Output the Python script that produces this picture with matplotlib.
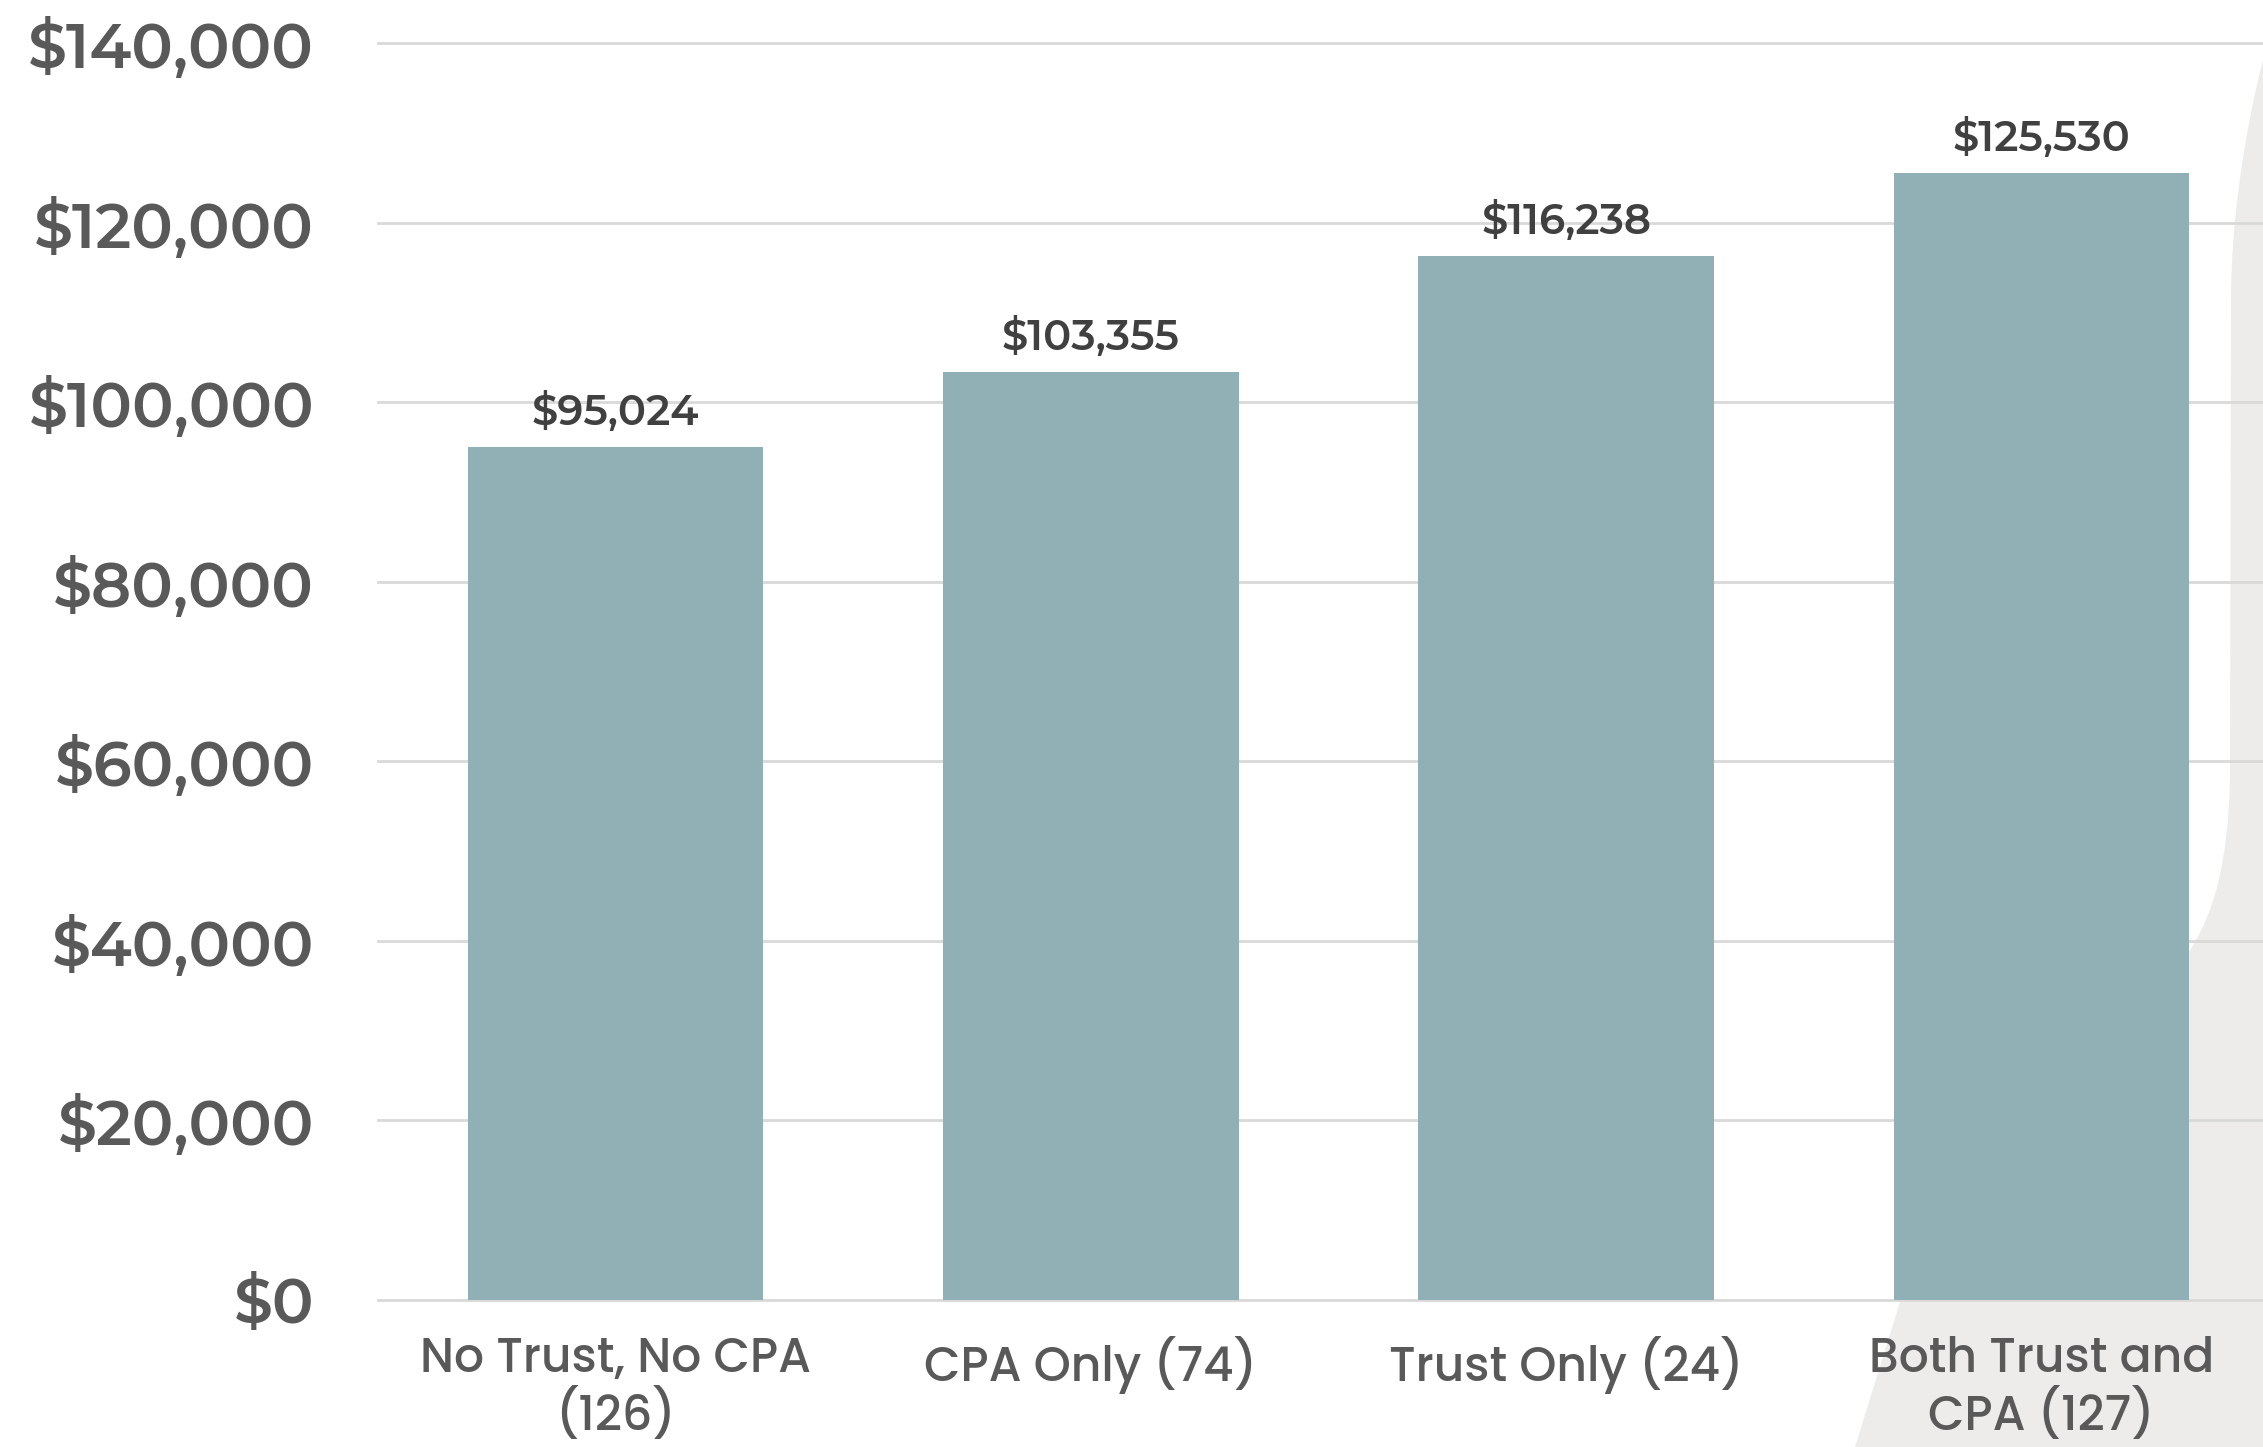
import matplotlib
matplotlib.use("Agg")
from matplotlib import pyplot as plt
from matplotlib.path import Path
from matplotlib.patches import PathPatch
from matplotlib.ticker import FuncFormatter

# data
categories = ["No Trust, No CPA\n(126)", "CPA Only (74)", "Trust Only (24)", "Both Trust and\nCPA (127)"]
values = [95024, 103355, 116238, 125530]

bar_color = '#91b0b5'
tick_color = '#595959'
label_color = '#404040'
grid_color = '#d9d9d9'
deco_color = '#edecea'

# static Montserrat weights are only installed as "Montserrat Alternates"
plt.rcParams['font.family'] = ['Montserrat Alternates', 'DejaVu Sans']
# the alternates have odd N / A shapes, so the category labels use a plain geometric sans
cat_family = ['Poppins', 'Montserrat Alternates', 'DejaVu Sans']

W, H = 2263, 1447
fig = plt.figure(figsize=(W / 100, H / 100), dpi=100)
fig.patch.set_facecolor('white')

# light grey background shape on the right (pixel coords, y down)
deco = [
    (2263, 60),
    (2245, 130), (2231, 220), (2231, 300),
    (2230, 780),
    (2228, 860), (2215, 910), (2192, 947),
    (2150, 1020), (1950, 1150), (1900, 1302),
    (1855, 1447),
    (2263, 1447),
    (2263, 60),
]
codes = [Path.MOVETO, Path.CURVE4, Path.CURVE4, Path.CURVE4, Path.LINETO,
         Path.CURVE4, Path.CURVE4, Path.CURVE4,
         Path.CURVE4, Path.CURVE4, Path.CURVE4,
         Path.LINETO, Path.LINETO, Path.CLOSEPOLY]
verts = [(x / W, 1 - y / H) for x, y in deco]
patch = PathPatch(Path(verts, codes), facecolor=deco_color, edgecolor='none',
                  transform=fig.transFigure, zorder=-5)
fig.patches.append(patch)

left, right = 378 / W, 1.0
bottom, top = 1 - 1300 / H, 1 - 43 / H
ax = fig.add_axes([left, bottom, right - left, top - bottom])
ax.set_facecolor('none')

x = list(range(len(categories)))
bars = ax.bar(x, values, width=0.622, color=bar_color, zorder=3)

for b, v in zip(bars, values):
    ax.annotate(f'${v:,.0f}', (b.get_x() + b.get_width() / 2, v),
                xytext=(0, 14), textcoords='offset pixels',
                ha='center', va='bottom', fontsize=30, color=label_color,
                fontweight='semibold', zorder=4)

ax.set_xlim(-0.5, 3.466)
ax.set_ylim(0, 140000)
ax.set_yticks(range(0, 140001, 20000))
ax.yaxis.set_major_formatter(FuncFormatter(lambda v, p: f'${v:,.0f}'))
ax.set_xticks(x)
ax.set_xticklabels(categories, fontsize=34, color=tick_color, fontweight='medium',
                   family=cat_family, linespacing=1.1)

ax.tick_params(axis='y', length=0, pad=46, labelsize=44.5, labelcolor=tick_color)
ax.tick_params(axis='x', length=0, pad=26)
for t in ax.get_yticklabels():
    t.set_fontweight('semibold')

ax.grid(axis='y', color=grid_color, linewidth=2, zorder=0)
ax.set_axisbelow(True)
for s in ax.spines.values():
    s.set_visible(False)
for gl in ax.get_ygridlines():
    gl.set_clip_on(False)

fig.savefig('out.png', dpi=100)
